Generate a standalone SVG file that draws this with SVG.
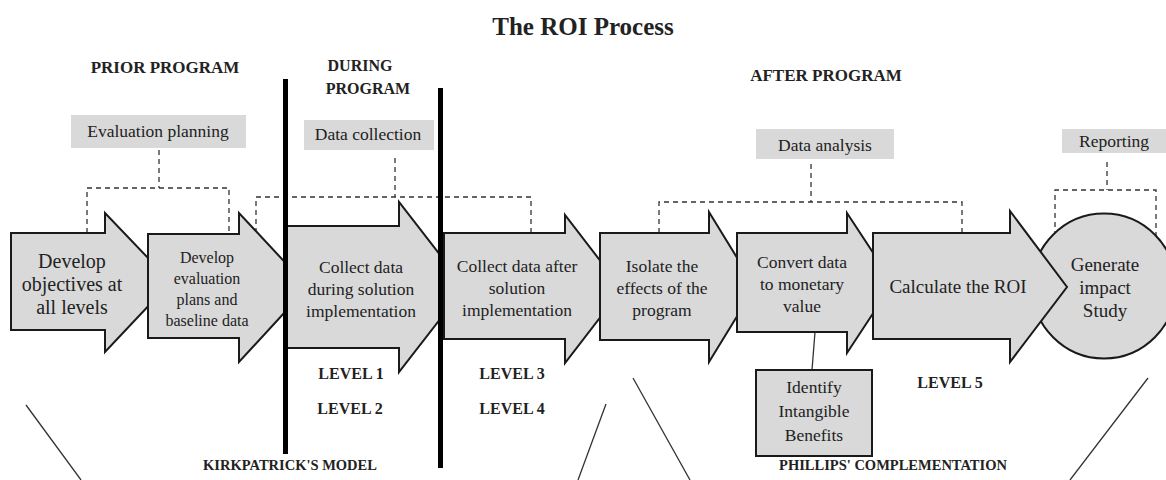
<svg xmlns="http://www.w3.org/2000/svg" width="1166" height="480" viewBox="0 0 1166 480">
<style>
.node{fill:#d9d9d9;stroke:#1a1a1a;stroke-width:2;stroke-linejoin:miter}
.box{fill:#d9d9d9;stroke:none}
.dash{fill:none;stroke:#333;stroke-width:1.3;stroke-dasharray:5 4}
.line{fill:none;stroke:#333;stroke-width:1.3}
.bar{fill:#000}
text{font-family:"Liberation Serif","Times New Roman",serif;fill:#222;text-anchor:middle}
.b{font-weight:bold}
.t17{font-size:17.5px}
</style>
<rect width="1166" height="480" fill="#fff"/>
<text class="b" x="583" y="35" font-size="25">The ROI Process</text>
<text class="b" x="165" y="73" font-size="17">PRIOR PROGRAM</text>
<text class="b" x="360" y="71" font-size="16">DURING</text>
<text class="b" x="368" y="94" font-size="16">PROGRAM</text>
<text class="b" x="826" y="81" font-size="17">AFTER PROGRAM</text>

<g id="phase-labels">
<g id="evaluation-planning"><rect class="box" x="71" y="115" width="175" height="33"/><text class="t17" x="158" y="137">Evaluation planning</text></g>
<g id="data-collection"><rect class="box" x="304" y="120" width="130" height="30"/><text class="t17" x="368" y="140">Data collection</text></g>
<g id="data-analysis"><rect class="box" x="756" y="129" width="138" height="30"/><text class="t17" x="825" y="151">Data analysis</text></g>
<g id="reporting"><rect class="box" x="1062" y="129" width="104" height="24"/><text class="t17" x="1114" y="147">Reporting</text></g>
</g>

<g id="connectors">
<path class="dash" d="M159 150V188M87 233V188H229V233"/>
<path class="dash" d="M395 158V197M256 233V197H531V233"/>
<path class="dash" d="M811 164V202M659 233V202H962V233"/>
<path class="dash" d="M1107 162V190M1055 236V190H1156V240"/>
<path class="line" d="M815 332L812 370"/>
<path class="line" d="M26 405L81 480M606 404L578 480M633 378L690 480M1148 378L1070 480"/>
</g>

<g id="impact-study"><ellipse class="node" cx="1104" cy="286" rx="72" ry="72.5"/></g>
<g id="develop-objectives"><polygon class="node" points="11,233 105,233 105,213 171,282 105,352 105,330 11,330"/>
<text font-size="20" x="72" y="268">Develop</text><text font-size="20" x="72" y="291">objectives at</text><text font-size="20" x="72" y="314">all levels</text></g>
<g id="develop-evaluation"><polygon class="node" points="148,234 239,234 239,213 308,287 239,362 239,338 148,338"/>
<text font-size="16" x="207" y="263">Develop</text><text font-size="16" x="207" y="284">evaluation</text><text font-size="16" x="207" y="305">plans and</text><text font-size="16" x="207" y="326">baseline data</text></g>
<g id="collect-during"><polygon class="node" points="287,226 399,226 399,202 465,287 399,372 399,348 287,348"/>
<text class="t17" x="361" y="273">Collect data</text><text class="t17" x="361" y="295">during solution</text><text class="t17" x="361" y="317">implementation</text></g>
<g id="collect-after"><polygon class="node" points="444,233 565,233 565,215 622,289 565,363 565,339 444,339"/>
<text class="t17" x="517" y="272">Collect data after</text><text class="t17" x="517" y="294">solution</text><text class="t17" x="517" y="316">implementation</text></g>
<g id="isolate-effects"><polygon class="node" points="600,233 709,233 709,212 755,287 709,362 709,340 600,340"/>
<text class="t17" x="662" y="272">Isolate the</text><text class="t17" x="662" y="294">effects of the</text><text class="t17" x="662" y="316">program</text></g>
<g id="convert-data"><polygon class="node" points="737,233 847,233 847,213 893,283 847,353 847,332 737,332"/>
<text class="t17" x="802" y="268">Convert data</text><text class="t17" x="802" y="290">to monetary</text><text class="t17" x="802" y="312">value</text></g>
<g id="calculate-roi"><polygon class="node" points="873,233 1010,233 1010,211 1067,287 1010,362 1010,339 873,339"/>
<text font-size="19" x="958" y="293">Calculate the ROI</text></g>
<g id="impact-study-text"><text font-size="19" x="1105" y="271">Generate</text><text font-size="19" x="1105" y="294">impact</text><text font-size="19" x="1105" y="317">Study</text></g>

<g id="intangible"><rect class="node" x="756" y="370" width="116" height="86" stroke-width="1.5"/>
<text class="t17" x="814" y="393">Identify</text><text class="t17" x="814" y="417">Intangible</text><text class="t17" x="814" y="441">Benefits</text></g>

<rect class="bar" x="283" y="79" width="5" height="375"/>
<rect class="bar" x="438" y="88" width="5" height="380"/>

<text class="b" font-size="16" x="351" y="379">LEVEL 1</text>
<text class="b" font-size="16" x="350" y="414">LEVEL 2</text>
<text class="b" font-size="16" x="512" y="379">LEVEL 3</text>
<text class="b" font-size="16" x="512" y="414">LEVEL 4</text>
<text class="b" font-size="16" x="950" y="388">LEVEL 5</text>
<text class="b" font-size="14.5" x="290" y="470">KIRKPATRICK'S MODEL</text>
<text class="b" font-size="14.5" x="893" y="470">PHILLIPS' COMPLEMENTATION</text>
</svg>
